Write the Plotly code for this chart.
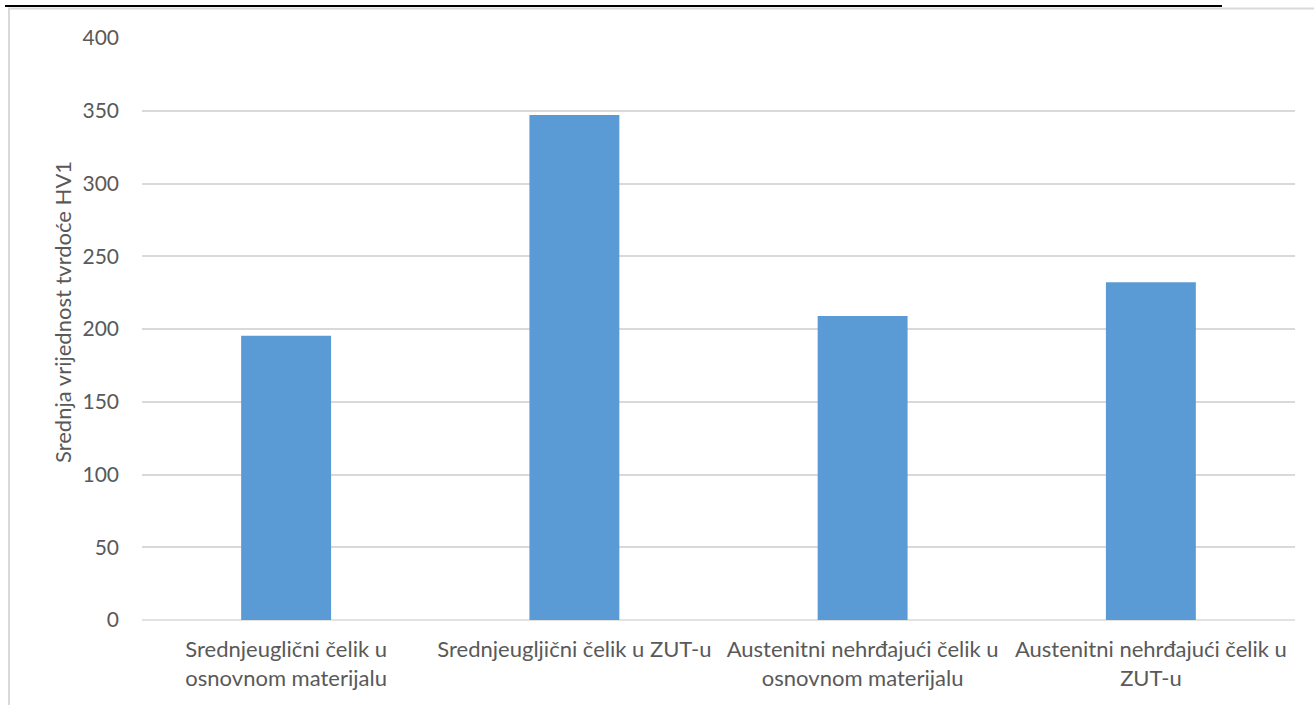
import plotly.graph_objects as go

categories = [
    "Srednjeuglični čelik u<br>osnovnom materijalu",
    "Srednjeugljični čelik u ZUT-u",
    "Austenitni nehrđajući čelik u<br>osnovnom materijalu",
    "Austenitni nehrđajući čelik u<br>ZUT-u",
]
values = [195.3, 347.1, 208.9, 232.1]
y_ticks = [0, 50, 100, 150, 200, 250, 300, 350, 400]
y_title = "Srednja vrijednost tvrdoće HV1"

W, H = 1314, 705
L, R, T, B = 142, 19, 38, 85
pw, ph = W - L - R, H - T - B

def px(x):
    return (x - L) / pw

def py(y):
    return (H - B - y) / ph

FONT = "Lato"
TXT = "#595959"

fig = go.Figure(go.Bar(x=categories, y=values, marker=dict(color="#5B9BD5", line=dict(width=0)),
                       width=0.312))

fig.update_layout(
    width=W, height=H,
    margin=dict(l=L, r=R, t=T, b=B, autoexpand=False),
    paper_bgcolor="white", plot_bgcolor="white",
    showlegend=False,
    font=dict(family=FONT, color=TXT, size=22),
    bargap=0.688,
    xaxis=dict(showgrid=False, showline=False, ticks="", zeroline=False, ticklabelstandoff=14,
               tickfont=dict(size=22, color=TXT, family=FONT)),
    yaxis=dict(range=[0, 400], tickvals=y_ticks, showgrid=True, gridcolor="#D9D9D9", gridwidth=1.5,
               zeroline=False, showline=False, ticks="", ticklabelstandoff=22,
               tickfont=dict(size=21, color=TXT, family=FONT)),
    shapes=[
        dict(type="line", xref="paper", yref="paper", x0=px(8), x1=px(1314), y0=py(8.5), y1=py(8.5),
             line=dict(color="#D9D9D9", width=2)),
        dict(type="line", xref="paper", yref="paper", x0=px(9), x1=px(9), y0=py(8.5), y1=py(706),
             line=dict(color="#D9D9D9", width=2)),
        dict(type="line", xref="paper", yref="paper", x0=px(5), x1=px(1222), y0=py(6), y1=py(6),
             line=dict(color="black", width=2)),
        dict(type="line", xref="paper", yref="paper", x0=0, x1=1, y0=0, y1=0,
             line=dict(color="#D9D9D9", width=1.5), layer="below"),
    ],
    annotations=[
        dict(text=y_title, xref="paper", yref="paper", x=px(62), y=py(312), textangle=-90,
             showarrow=False, font=dict(size=22, color=TXT, family=FONT), xanchor="center", yanchor="middle"),
    ],
)

fig.write_html("out.html")
